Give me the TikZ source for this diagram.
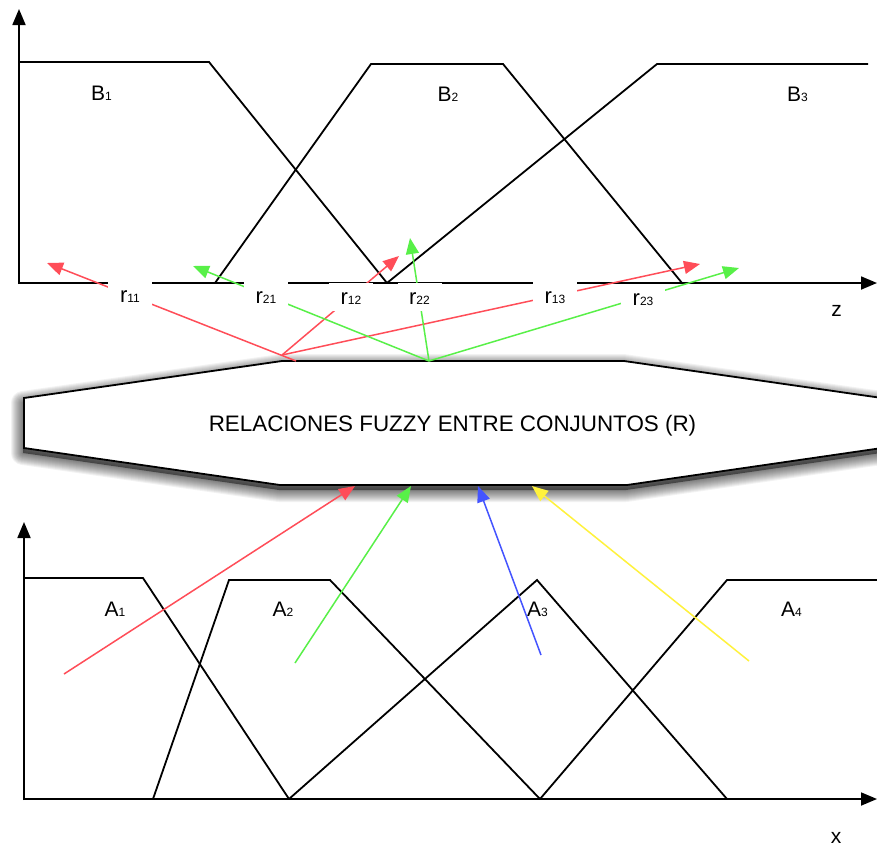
\documentclass[tikz,border=0pt]{standalone}
\usepackage{fontspec}
\setmainfont{Liberation Sans}
\usetikzlibrary{arrows.meta}
\definecolor{cred}{RGB}{255,77,88}
\definecolor{cgreen}{RGB}{88,240,72}
\definecolor{cblue}{RGB}{68,84,255}
\definecolor{cyellow}{RGB}{255,242,60}
\newcommand\subdig[1]{{\fontsize{12}{12}\selectfont #1}}
\begin{document}
\begin{tikzpicture}[x=1pt,y=-1pt,
  curve/.style={line width=1.8pt, line join=miter},
  axis/.style={line width=1.8pt, -{Triangle[length=16pt,width=13pt]}},
  conn/.style={line width=1.5pt, -{Triangle[length=16pt,width=13pt]}},
  lbl/.style={inner sep=0pt, anchor=base, font=\fontsize{21}{21}\selectfont},
  rbox/.style={fill=white, inner sep=0pt, minimum width=44pt, minimum height=28pt, text height=14pt, text depth=0pt, font=\fontsize{22}{22}\selectfont},
  octshape/.style={line width=1.8pt, line join=miter, fill=white, draw=black}
]
\useasboundingbox (0,0) rectangle (877,846);
\clip (0,0) rectangle (877,846);
\fill[white] (0,0) rectangle (877,846);

% shadow of the relation shape
\fill[black, opacity=0.45, shift={(-1,5)}] (282,361) -- (624,361) -- (882,398) -- (882,448) -- (627,485) -- (280,485) -- (24,448) -- (24,398) -- cycle;
\foreach \w in {2,4,6,8,10,12,14,16,18,20,22,24}{
  \draw[black, opacity=0.05, line width=\w pt, line join=round, shift={(-1,5)}] (282,361) -- (624,361) -- (882,398) -- (882,448) -- (627,485) -- (280,485) -- (24,448) -- (24,398) -- cycle;
}
% relation shape
\draw[octshape] (282,361) -- (624,361) -- (882,398) -- (882,448) -- (627,485) -- (280,485) -- (24,448) -- (24,398) -- cycle;
\node[anchor=base, inner sep=0pt, font=\fontsize{22.4}{24}\selectfont] (rel) at (452.5,431) {RELACIONES FUZZY ENTRE CONJUNTOS (R)};

% top axes
\draw[axis] (19,284) -- (19,9);
\draw[axis] (18,283) -- (877,283);
% top membership functions
\draw[curve] (19,62) -- (209,62) -- (387,283);
\draw[curve] (215,283) -- (371,64) -- (503,64) -- (682,283);
\draw[curve] (387,283) -- (657,64) -- (868,64);

% bottom axes
\draw[axis] (24,800) -- (24,522);
\draw[axis] (23,799) -- (877,799);
% bottom membership functions
\draw[curve] (24,578) -- (143,578) -- (289,799);
\draw[curve] (153,799) -- (229,580) -- (330,580) -- (540,799);
\draw[curve] (289,799) -- (537,580) -- (727,799);
\draw[curve] (540,799) -- (727,580) -- (877,580);

% labels of the sets
\node[lbl] (B1) at (101.5,100) {B\subdig{1}};
\node[lbl] (B2) at (448,101) {B\subdig{2}};
\node[lbl] (B3) at (797.5,101) {B\subdig{3}};
\node[lbl] (A1) at (115,616) {A\subdig{1}};
\node[lbl] (A2) at (283,616) {A\subdig{2}};
\node[lbl] (A3) at (537.5,616) {A\subdig{3}};
\node[lbl] (A4) at (791.5,616) {A\subdig{4}};
\node[lbl] (zl) at (836.5,316) {z};
\node[lbl] (xl) at (836,843) {x};

% connector end points
\coordinate (o11) at (296,361);
\coordinate (o1) at (282,355);
\coordinate (o2) at (429,361);
\coordinate (t11) at (47,263);
\coordinate (t12) at (399,256);
\coordinate (t13) at (700,264);
\coordinate (t21) at (193,266);
\coordinate (t22) at (410,238);
\coordinate (t23) at (739,268);
\coordinate (sa1) at (64,674);
\coordinate (sa2) at (295,663);
\coordinate (sa3) at (541,655);
\coordinate (sa4) at (749,661);
\coordinate (ea1) at (355,486);
\coordinate (ea2) at (411,486);
\coordinate (ea3) at (478,486);
\coordinate (ea4) at (532,486);

% connectors to the output sets
\draw[conn, cred] (o11) -- (t11);
\draw[conn, cred] (o1) -- (t12);
\draw[conn, cred] (o1) -- (t13);
\draw[conn, cgreen] (o2) -- (t21);
\draw[conn, cgreen] (o2) -- (t22);
\draw[conn, cgreen] (o2) -- (t23);

% connectors from the input sets
\draw[conn, cred] (sa1) -- (ea1);
\draw[conn, cgreen] (sa2) -- (ea2);
\draw[conn, cblue] (sa3) -- (ea3);
\draw[conn, cyellow] (sa4) -- (ea4);

% relation labels
\node[rbox] (r11) at (130,295) {r\subdig{11}};
\node[rbox] (r21) at (266,296) {r\subdig{21}};
\node[rbox] (r12) at (351,297) {r\subdig{12}};
\node[rbox] (r22) at (419.5,297) {r\subdig{22}};
\node[rbox] (r13) at (555,296) {r\subdig{13}};
\node[rbox, text height=12pt] (r23) at (643,299) {r\subdig{23}};
\end{tikzpicture}
\end{document}
